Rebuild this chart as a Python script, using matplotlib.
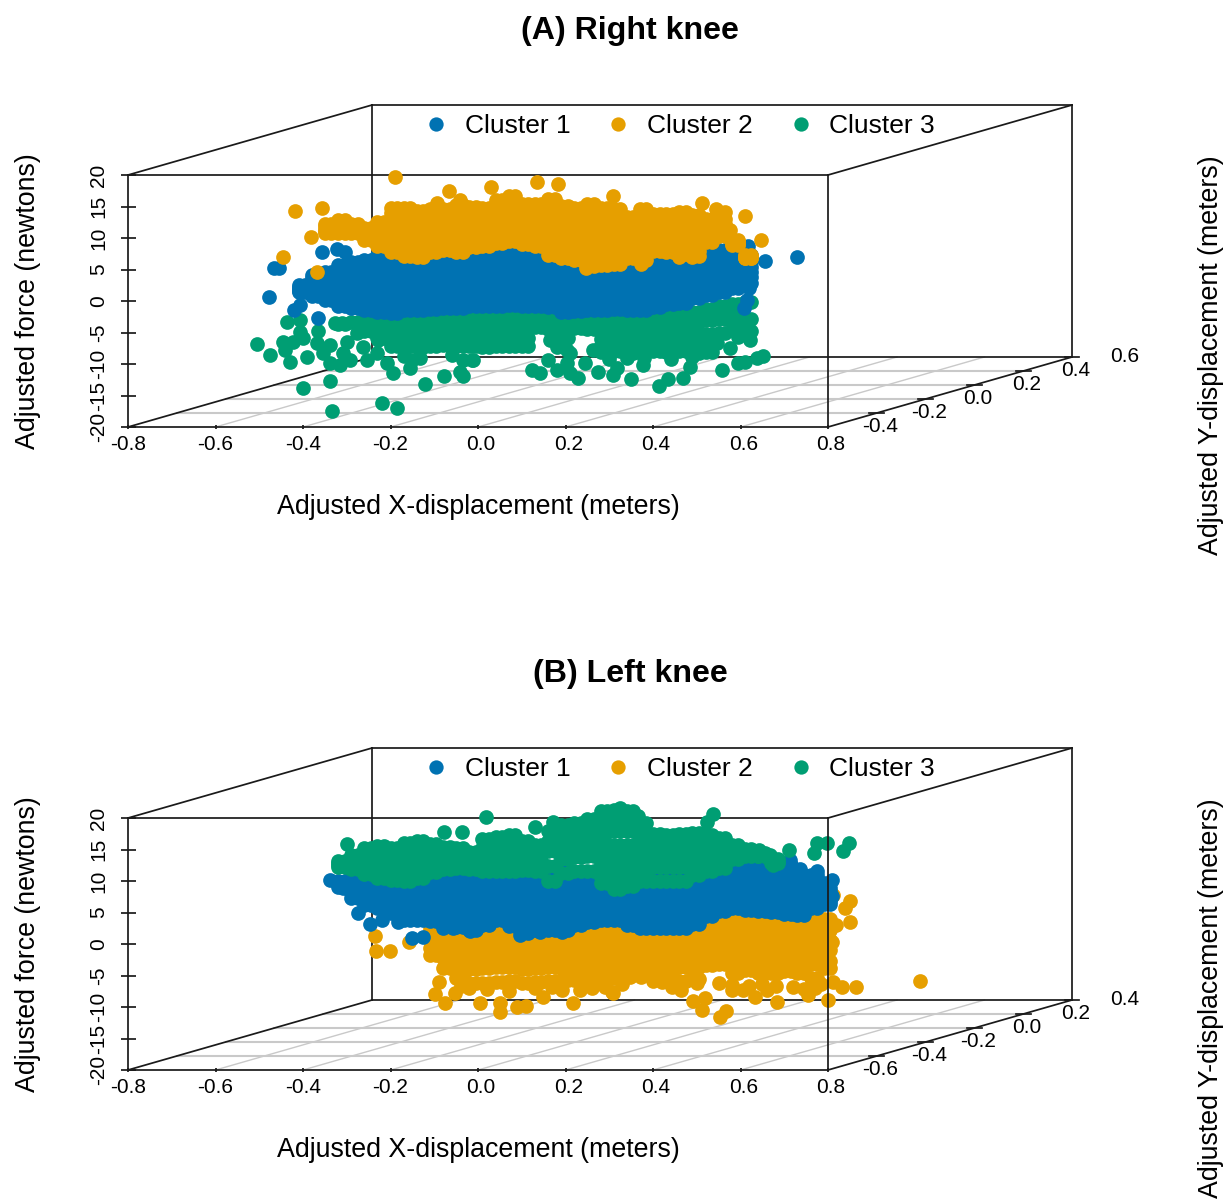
# 3D-style scatter of adjusted knee force, two panels
import numpy as np
import matplotlib
matplotlib.use("Agg")
import matplotlib.pyplot as plt
from matplotlib.lines import Line2D
from matplotlib.transforms import ScaledTranslation

plt.rcParams['font.family'] = ['Liberation Sans', 'DejaVu Sans']
plt.rcParams['axes.unicode_minus'] = False

n = np.nan

# Colours and labels
cluster_names = ["Cluster 1", "Cluster 2", "Cluster 3"]
blue, orange, green = "#0072B2", "#E69F00", "#009E73"

x_ticks = [-0.8, -0.6, -0.4, -0.2, 0.0, 0.2, 0.4, 0.6, 0.8]
force_ticks = [-20, -15, -10, -5, 0, 5, 10, 15, 20]
depth_labels_a = ["-0.4", "-0.2", "0.0", "0.2", "0.4", "0.6"]
depth_labels_b = ["-0.6", "-0.4", "-0.2", "0.0", "0.2", "0.4"]

xa1 = [-0.44,-0.41,-0.38,-0.35,-0.32,-0.29,-0.26,-0.23,-0.20,-0.17,-0.14,-0.11,-0.08,-0.05,-0.02,0.01,0.04,0.07,0.10,0.13,0.16,0.19,0.22,0.25,0.28,0.31,0.34,0.37,0.40,0.43,0.46,0.49,0.52,0.55,0.58,0.61]
xa2 = [-0.425,-0.395,-0.365,-0.335,-0.305,-0.275,-0.245,-0.215,-0.185,-0.155,-0.125,-0.095,-0.065,-0.035,-0.005,0.025,0.055,0.085,0.115,0.145,0.175,0.205,0.235,0.265,0.295,0.325,0.355,0.385,0.415,0.445,0.475,0.505,0.535,0.565,0.595,0.625]

a_orange_rows = [
    [n,n,n,12.2,12.9,12.2,11.6,12.5,14.8,14.8,14.3,14.6,14.6,15.2,14.9,14.8,16,16.7,15.4,15.4,16.2,15.1,14.8,15.4,14.8,14.6,13.3,14.6,13.8,13.8,14.1,13.7,13,14.1,9.7,7.3],
    [n,n,n,11.9,12.4,11.9,11.1,11.5,13,12.9,12.5,12.9,13,13.3,13.3,13.3,14.3,14.9,13.8,13.7,14,13,12.7,13,12.5,12.4,11.7,12.6,12.3,12.3,12.4,12,12.1,13,9.5,7.2],
    [n,n,n,11.5,11.9,11.5,10.7,10.6,11.3,11,10.7,11.2,11.4,11.5,11.8,11.8,12.6,13.1,12.2,12,11.8,11,10.7,10.5,10.3,10.3,10,10.6,10.9,10.8,10.8,10.4,11.2,12.2,9.3,7],
    [n,n,n,11.1,11.3,11.1,10.2,9.7,9.5,9,8.8,9.5,9.8,9.6,10.2,10.3,10.9,11.3,10.6,10.4,9.5,8.9,8.6,8,8,8.1,8.4,8.5,9.4,9.3,9.2,8.8,10.3,11.2,9.1,6.9],
    [n,n,n,10.8,10.8,10.8,9.7,8.7,7.8,7.1,7,7.8,8.1,7.8,8.6,8.7,9.2,9.5,9,8.7,7.3,6.8,6.5,5.6,5.7,5.9,6.8,6.5,8,7.8,7.5,7.1,9.4,10.3,8.9,6.8],
    [n,n,n,n,n,n,n,n,13.9,13.8,13.4,13.7,13.8,14.2,14.1,14,15.1,15.8,14.6,14.5,15.1,14,13.7,14.2,13.6,13.5,12.5,13.6,13,13,13.2,12.8,12.5,n,n,n],
    [n,n,n,n,n,n,n,n,12.1,11.9,11.6,12,12.2,12.4,12.5,12.5,13.4,14,13,12.8,12.9,12,11.7,11.7,11.4,11.3,10.8,11.6,11.6,11.5,11.6,11.2,n,n,n,n],
    [n,n,n,n,n,n,n,n,10.4,10,9.7,10.3,10.6,10.5,11,11,11.7,12.2,11.4,11.2,10.6,10,9.6,9.2,9.1,9.2,9.2,9.5,10.1,10,10,9.6,n,n,n,n],
    [n,n,n,n,n,n,n,n,8.6,8,7.9,8.6,8.9,8.7,9.4,9.5,10,10.4,9.8,9.5,8.4,7.8,7.5,6.8,6.9,7,7.6,7.5,8.7,8.5,8.3,8,n,n,n,n],
]
a_orange_x = [-0.19,-0.418,-0.357,-0.382,-0.446,-0.368,-0.066,-0.094,-0.041,0.03,0.135,0.183,0.309,0.512,0.544,0.61,0.647,0.576,0.373,0.459,0.489,0.247]
a_orange_f = [19.7,14.3,14.8,10.2,7,4.6,17.5,15.6,16,18.1,18.9,18.6,16.7,15.6,14.6,13.5,9.7,11.3,5.9,7,7,5.2]

a_blue_rows = [
    [n,2.5,4.1,4.6,5.7,6.2,6.5,7.3,7.4,7.0,7.2,7.5,7.4,7.3,7.6,7.8,8.0,8.4,8.2,7.8,7.2,6.5,6.0,5.6,5.6,5.8,6.0,5.4,6.5,7,7.3,7.6,8.1,8.1,7.8,7.3],
    [n,2.2,3.6,3.9,4.4,4.8,5.0,5.5,5.6,5.4,5.5,5.8,5.7,5.6,5.9,6.1,6.3,6.6,6.4,6.1,5.6,4.9,4.5,4.2,4.2,4.4,4.6,4.1,5.0,5.4,5.7,6.0,6.5,6.6,6.5,6.2],
    [n,2.0,3.0,3.1,3.2,3.4,3.5,3.7,3.8,3.7,3.8,4.0,4.0,3.9,4.2,4.4,4.6,4.8,4.6,4.4,3.9,3.3,3.0,2.8,2.8,3.0,3.1,2.8,3.6,4.0,4.2,4.6,5.1,5.3,5.4,5.4],
    [n,1.8,2.3,2.3,2.0,2.0,2.0,2.0,2.0,2.0,2.1,2.3,2.3,2.2,2.5,2.7,2.9,3.0,2.9,2.7,2.3,1.7,1.5,1.4,1.4,1.6,1.7,1.4,2.2,2.6,2.9,3.2,3.8,4.1,4.3,4.6],
    [n,1.6,1.5,1.2,0.6,0.5,0.3,0.2,0.2,0.3,0.4,0.5,0.6,0.6,0.8,1.0,1.1,1.2,1.1,0.9,0.6,0,-0.1,0,0,0.1,0.2,0,0.7,1.1,1.3,1.8,2.4,2.8,3.2,3.8],
    [n,1.4,0.8,0.2,-0.8,-1.1,-1.4,-1.7,-1.9,-1.4,-1.4,-1.3,-1.1,-1.1,-0.8,-0.8,-0.8,-0.6,-0.8,-0.8,-1,-1.7,-1.6,-1.4,-1.4,-1.3,-1.4,-1.4,-0.9,-0.4,-0.3,0.4,1,1.5,2.1,2.9],
]
a_blue_x = [-0.466,-0.455,-0.356,-0.322,-0.304,-0.478,-0.408,-0.42,-0.366,0.656,0.729,0.617,0.62,0.615,0.608]
a_blue_f = [5.2,5.2,7.8,8.2,7.8,0.6,-0.6,-1.4,-2.7,6.4,7,8.8,2.1,0.2,-1.1]

a_green_rows = [
    [n,n,n,n,-3.6,-3.4,-3.0,-2.8,-2.6,-2.6,-2.8,-2.6,-2.5,-2.6,-2.4,-2.4,-2.5,-2.3,-2.4,-2.3,-2.6,-2.7,-2.8,-2.7,-2.8,-2.8,-2.7,-2.8,-2.7,-2.5,-2.2,-1.8,-1.2,-0.8,-0.4,-0.2],
    [n,n,n,n,n,n,-4.8,-4.4,-4.2,-4.3,-4.4,-4.2,-4.1,-4.2,-4.0,-4.1,-4.2,-4.0,-4.1,-4.1,-4.4,-4.6,-4.3,-4.4,-4.5,-4.4,-4.3,-4.4,-4.2,-4.0,-3.8,-3.4,-3.0,-2.8,-2.6,-2.8],
    [n,n,n,n,n,n,n,-5.8,-5.6,-5.9,-6.0,-5.8,-5.7,-5.8,-5.7,-5.8,-5.9,-5.7,-5.8,n,n,-5.9,n,n,-6,-6.0,-6.0,-6.1,-5.9,-5.8,-5.7,-5.4,-5.2,-5.0,-4.6,-4.8],
    [n,n,n,n,n,n,n,n,n,n,n,n,n,n,n,n,n,n,n,n,n,n,n,n,-7,-7,-7.1,-7.1,-6.9,-7,-6.9,-6.8,-6.6,n,n,n],
    [n,n,n,n,n,n,n,n,-7.2,-7.1,-7.3,-7.2,-7.0,-7.2,-7.1,-7.3,-7.2,-7.1,-7.2,n,n,n,n,n,-8.1,-8.0,-8.2,-8.1,-7.9,-8.1,-8.0,-8.2,-8.1,n,n,n],
]
a_green_x = [-.437,-.407,-.407,-.366,-.327,-.311,-.505,-.475,-.446,-.423,-.441,-.391,-.43,-.4,-.368,-.338,-.354,-.338,-.315,-.309,-.293,-.299,-.277,-.254,-.263,-.231,-.229,-.208,-.194,-.151,-.133,-.155,-.338,-.4,-.121,-.078,-.034,-.041,-.034,-.014,-.219,-.185,-.334,-.011,.123,.142,.181,.16,.21,.229,.203,.245,.274,.309,.35,.318,.377,.485,.469,.434,.414,.558,.594,.61,.638,.651,.622,.594,.576,.546,.165,.203,.181,.21,.263,.3,.34,.38,.44,.49,-.17,-.06]
a_green_f = [-3.3,-3,-4.9,-4.8,-3.5,-3.5,-6.8,-8.6,-6.5,-6.5,-7.8,-8.9,-9.7,-5.9,-6.7,-7,-8.3,-9.8,-10.2,-8.3,-9.4,-6.5,-5.1,-9.4,-7.3,-8.3,-6.2,-9.8,-11.4,-9.4,-9,-10.6,-12.7,-13.8,-13.2,-11.9,-11.9,-11.3,-9.4,-9.4,-16.2,-17,-17.5,-9.4,-11,-11.4,-11,-9.4,-11.4,-12.2,-9.8,-9.8,-11.3,-11.7,-12.4,-10.6,-10.2,-10.5,-12.2,-12.4,-13.5,-11,-9.8,-9.7,-9,-8.7,-6.2,-5.7,-7.5,-6.7,-6.2,-7.8,-7.3,-8.3,-7.8,-9.2,-9,-9.1,-9.2,-8.9,-8.7,-8.6]

# Panel B
xb1 = [-0.35,-0.32,-0.29,-0.26,-0.23,-0.20,-0.17,-0.14,-0.11,-0.08,-0.05,-0.02,0.01,0.04,0.07,0.10,0.13,0.16,0.19,0.22,0.25,0.28,0.31,0.34,0.37,0.40,0.43,0.46,0.49,0.52,0.55,0.58,0.61,0.64,0.67,0.70,0.73,0.76,0.79]
xb2 = [-0.335,-0.305,-0.275,-0.245,-0.215,-0.185,-0.155,-0.125,-0.095,-0.065,-0.035,-0.005,0.025,0.055,0.085,0.115,0.145,0.175,0.205,0.235,0.265,0.295,0.325,0.355,0.385,0.415,0.445,0.475,0.505,0.535,0.565,0.595,0.625,0.655,0.685,0.715,0.745,0.775,0.805]

b_green_rows = [
    [n,13.2,14.1,15.2,15.6,15.2,16,16.3,15.9,15.4,15.2,14.6,16.7,17,17.3,16.3,15.7,17.9,18.9,19.2,19.8,21.1,21.3,21.1,19.2,17.5,17.3,17.5,17.6,17.3,16.8,15.7,15.1,14.4,13.5,n,n,n,n],
    [n,12.8,13.3,14,14.2,13.8,14.5,14.8,14.4,14,13.9,13.6,15.2,15.5,15.8,14.9,14.4,16.3,17.3,17.6,18.2,19.5,19.7,19.5,17.7,16,15.8,16,16,15.8,15.3,14.6,14.6,14.2,13.2,n,n,n,n],
    [n,12.5,12.7,13,13,12.6,13,13.4,13,12.9,12.9,12.8,13.8,14,14.3,13.6,13.1,14.8,15.8,16,16.6,17.8,18,17.9,16.2,14.5,14.4,14.5,14.5,14.2,14,13.8,14.2,14,n,n,n,n,n],
    [n,n,n,n,n,n,n,n,n,n,n,n,n,n,n,n,n,15.5,16.5,16.8,17.4,18.6,18.8,18.7,16.9,15.2,15.1,15.2,15.2,n,n,n,n,n,n,n,n,n,n],
    [n,n,n,n,n,n,n,n,n,n,n,n,n,n,n,n,n,n,14.6,14.9,15.2,15.8,15.7,15.7,14.6,13.3,13.3,13.3,n,n,n,n,n,n,n,n,n,n,n],
    [n,n,n,n,n,n,n,n,n,n,n,n,n,n,n,n,n,n,14,14.4,14.6,14.7,14.5,14.6,13.8,12.8,12.8,12.8,n,n,n,n,n,n,n,n,n,n,n],
    [n,n,12.3,12,11.8,11.4,11.5,12,12.2,12.4,12.5,12.4,12.7,12.8,13,12.6,12.3,12.4,13.5,13.8,14,13.7,13.3,13.5,13,12.2,12.2,12.2,12.7,12.9,13,n,n,n,n,n,n,n,n],
    [n,n,n,n,n,n,n,n,n,n,n,n,n,n,n,n,n,n,n,n,n,12.7,12.1,12.4,12.2,n,n,n,n,n,n,n,n,n,n,n,n,n,n],
    [n,n,n,n,n,n,n,n,n,n,n,n,n,n,n,n,n,n,n,n,n,11.7,11,11.3,11.5,n,n,n,n,n,n,n,n,n,n,n,n,n,n],
    [n,n,n,n,n,n,n,n,n,n,n,n,n,n,n,n,n,n,n,n,n,10.7,9.9,10.2,10.8,n,n,n,n,n,n,n,n,n,n,n,n,n,n],
    [n,12.2,11.9,11.1,10.5,10.2,10,10.5,11.4,11.9,12.1,11.9,11.6,11.6,11.6,11.7,11.6,10,11.3,11.6,11.6,9.7,8.7,9.2,10,10,10,10,11,11.6,12.1,13.5,14,14,12.9,n,n,n,n],
]
b_green_x = [-.299,-.078,-.037,.018,.171,.13,.215,.325,.366,.524,.537,.711,.775,.798,.768,.847,.834,.674,.642,.667]
b_green_f = [15.9,17.8,17.8,20.2,19.4,18.5,18.9,21.6,20.3,19.4,20.6,15,16.1,16.1,14.4,16,14.7,12.6,15,14.2]

b_blue_rows = [
    [n,10,11,11,11,11,11,11,11,11.5,11.5,11.5,11.5,11.5,11.5,11.5,11.5,11.5,11.5,11.5,11.5,10.5,10,10,10.5,10.5,10.5,10.5,11,11.5,12,12.3,12.4,12.5,12.7,12.5,11,11,9.7],
    [n,9.8,10.3,10,9.9,9.8,9.6,9.6,9.5,9.8,9.7,9.6,9.8,10,9.8,9.5,9.6,9.6,9.6,9.8,9.9,9.2,8.8,8.6,8.9,8.9,8.9,8.9,9.4,10.1,10.6,11,11,11,11.2,11,9.9,10,8.9],
    [n,9.6,9.6,9,8.8,8.5,8.1,8.1,8,8.1,7.9,7.7,8.1,8.3,8,7.5,7.6,7.6,7.6,8.1,8.3,7.8,7.5,7.2,7.3,7.3,7.3,7.3,7.9,8.6,9.3,9.7,9.6,9.6,9.8,9.5,8.8,9,8.2],
    [n,n,8.9,8,7.8,7.3,6.7,6.7,6.5,6.4,6.2,5.9,6.4,6.6,6.3,5.6,5.8,5.8,5.8,6.3,6.7,6.4,6.2,5.8,5.7,5.7,5.7,5.7,6.3,7.2,7.9,8.4,8.2,8,8.2,8,7.7,8,7.5],
    [n,n,8.1,7.1,6.8,6.1,5.2,5.2,5.1,4.8,4.5,4,4.7,5.2,4.6,3.7,4,4,4,4.7,5.1,5.1,5,4.4,4.1,4.1,4.1,4.1,4.8,5.8,6.5,7,6.8,6.6,6.6,6.4,6.1,6.8,6.9],
    [n,9,7.3,6.2,5.7,4.9,3.8,3.8,3.7,3.2,2.7,2.2,3,3.8,2.9,1.7,2.2,2.2,2.2,3,3.5,3.8,3.8,3,2.5,2.5,2.5,2.5,3.2,4.4,5.2,5.7,5.4,5.2,5.1,4.8,4.6,5.7,6.3],
]
b_blue_x = [-.338,-.309,-.274,-.247,-.219,-.183,-.151,-.126,-.08,-.057,-.018,.096,.142,.192,.775,.809,.809,.713,.736]
b_blue_f = [10.2,8.9,5,3.2,3.8,3.5,1,1.1,2.5,2.5,2.1,1.4,1.9,1.9,11.6,10.2,7.6,13.3,11.9]

b_orange_rows = [
    [n,n,n,n,n,n,n,n,2.4,2.6,2.3,2.5,2.2,2.6,2.5,2.4,2.6,2.3,2.5,2.4,2.7,2.6,2.5,2.3,2.4,2.6,2.5,2.3,2.7,3.5,3.8,3.6,3.4,3.3,3.1,3,3.2,3.6,4],
    [n,n,n,n,n,n,n,n,0.8,1,0.9,1.1,0.8,1,1.1,0.9,1,0.8,1.1,1,0.9,1.1,1,0.8,0.9,1.1,1,0.8,1,1.8,2,1.9,1.7,1.6,1.5,1.4,1.6,1.9,2.3],
    [n,n,n,n,n,n,n,n,-0.7,-0.6,-0.5,-0.7,-0.4,-0.6,-0.5,-0.7,-0.6,-0.5,-0.4,-0.6,-0.7,-0.5,-0.6,-0.4,-0.7,-0.5,-0.6,-0.4,-0.6,0.1,0.3,0.2,0,0,-0.1,-0.2,0,0.2,0.6],
    [n,n,n,n,n,n,n,n,-1.7,-2.2,-2.1,-2.3,-2,-2.2,-2.1,-2.3,-2.2,-2,-2.1,-2.3,-2.2,-2,-2.1,-2.3,-2.2,-2,-2.3,-2.1,-2.2,-1.5,-1.4,-1.5,-1.6,-1.7,-1.6,-1.8,-1.7,-1.5,-1],
    [n,n,n,n,n,n,n,n,n,-3.8,-3.7,-3.9,-3.8,-3.6,-3.7,-3.9,-3.8,-3.7,-3.6,-3.8,-3.9,-3.7,-3.6,-3.8,-3.7,-3.9,-3.8,-3.6,-3.6,-3.3,-3.1,-3.3,-3.2,-3.4,-3.3,-3.4,-3.3,-3.2,-2.7],
    [n,n,n,n,n,n,n,n,n,n,-5.4,-6.2,-6.2,-6,-5.9,-6.2,-6.1,-5.9,-5.7,-5.7,-5.8,-5.7,-5.4,-4.9,-4.6,-4.9,-5.4,-5.9,-5.6,n,n,-4.6,-4.1,-4.6,-4.6,-4.3,-4.6,-5.4,-3.8],
]
b_orange_x = [-.235,-.233,-.201,-.158,-.089,-.098,-.075,-.053,.005,.05,.05,.089,.11,.149,.192,.217,.233,.306,.309,.347,.373,.443,.464,.501,.519,.491,.512,.553,.567,.581,.606,.633,.661,.683,.754,.8,.811,.832,.864,1.01,.818,.85,.839,.85,.809,.811,.02,.07,.13,.17,.26,.29,-.02,-.04,.33,.42,.40,.55,.58,.62,.65,.68,.72,.745,.77,.785]
b_orange_f = [1.3,-1.1,-1.1,.3,-6,-7.9,-9.4,-7.8,-9.4,-9.4,-10.8,-10,-9.8,-8.4,-7.3,-9.4,-7.3,-7.6,-7.8,-5.2,-5.2,-6.8,-7.3,-6.2,-8.6,-9,-10.5,-11.6,-10.6,-7.3,-7.3,-8.4,-7.3,-9.2,-8.1,-8.9,-6,-6.8,-6.8,-5.9,3,3.5,5.7,6.8,.3,7.8,-7.2,-7.4,-7,-6.9,-7,-6.8,-7,-6.6,-6.3,-6.1,-5.9,-6.2,-6.5,-6.6,-6.4,-6.6,-6.8,-7.2,-7,-6.3]

# Oblique shift of the back of the box, in x and force units
shift_x = 0.5577
shift_f = 11.11
black = "#1a1a1a"
grey = "#c9c9c9"


def project(x, f, d):
    return x + shift_x * d, f + shift_f * d


def flatten(cols, rows, extra_x, extra_f):
    # each force row is plotted at both column sets
    xs, fs = [], []
    for row in rows:
        for col in cols:
            for x, f in zip(col, row):
                xs.append(x)
                fs.append(f)
    return np.array(xs + extra_x), np.array(fs + extra_f)


def draw_box(ax, depth_labels):
    # floor grid
    for k in range(1, 5):
        x0, f0 = project(-0.8, -20, k / 5)
        x1, f1 = project(0.8, -20, k / 5)
        ax.plot([x0, x1], [f0, f1], color=grey, lw=1.5, zorder=0.3, clip_on=False)
    for t in x_ticks[1:-1]:
        x0, f0 = project(t, -20, 0)
        x1, f1 = project(t, -20, 1)
        ax.plot([x0, x1], [f0, f1], color=grey, lw=1.0, zorder=0.3, clip_on=False)
    # back and side edges
    edges = [((-0.8, -20, 0), (-0.8, -20, 1)), ((-0.8, 20, 0), (-0.8, 20, 1)),
             ((0.8, 20, 0), (0.8, 20, 1)), ((0.8, -20, 0), (0.8, -20, 1)),
             ((-0.8, -20, 1), (0.8, -20, 1)), ((-0.8, 20, 1), (0.8, 20, 1)),
             ((-0.8, -20, 1), (-0.8, 20, 1)), ((0.8, -20, 1), (0.8, 20, 1))]
    for a, b in edges:
        x0, f0 = project(*a)
        x1, f1 = project(*b)
        ax.plot([x0, x1], [f0, f1], color=black, lw=1.25, zorder=0.5, clip_on=False)
    # depth ticks and their labels
    for k in range(1, 7):
        x0, f0 = project(0.8, -20, k / 5)
        if k < 6:
            ax.plot([x0 - 0.017, x0 + 0.017], [f0, f0], color=black, lw=1.25, zorder=0.6, clip_on=False)
        ax.annotate(depth_labels[k - 1], (x0, f0), xytext=(2.5, -9.4), textcoords="offset points",
                    ha="center", va="center", fontsize=15, annotation_clip=False)


def draw_panel(ax, title, depth_labels, scatter_sets):
    draw_box(ax, depth_labels)
    for xs, fs, col in scatter_sets:
        ax.scatter(xs, fs, s=112, color=col, linewidths=0, zorder=1, clip_on=False)

    ax.set_xlim(-0.8, 0.8)
    ax.set_ylim(-20, 20)
    ax.set_xticks(x_ticks)
    ax.set_xticklabels(["%.1f" % t for t in x_ticks], fontsize=15)
    ax.set_yticks(force_ticks)
    ax.set_yticklabels([str(t) for t in force_ticks], fontsize=15, rotation=90, va="center")
    ax.tick_params(axis="x", direction="inout", length=3, width=1.25, pad=4, color=black)
    ax.tick_params(axis="y", direction="inout", length=10.8, width=1.25, pad=9, color=black)
    for t, lab in zip(x_ticks, ax.get_xticklabels()):
        if t >= 0:
            lab.set_transform(lab.get_transform() + ScaledTranslation(3 / 100, 0, ax.figure.dpi_scale_trans))
    for side in ax.spines:
        ax.spines[side].set_linewidth(1.25)
        ax.spines[side].set_color(black)
    ax.spines["top"].set_zorder(0.5)
    ax.spines["left"].set_zorder(0.5)
    ax.patch.set_visible(False)

    ax.set_xlabel("Adjusted X-displacement (meters)", fontsize=19.25, va="center")
    ax.xaxis.set_label_coords(0.5, -0.318)
    ax.set_ylabel("Adjusted force (newtons)", fontsize=19.25, va="center")
    ax.yaxis.set_label_coords(-0.143, 0.5)
    ax.text(1.5475, 0.286, "Adjusted Y-displacement (meters)", fontsize=19.25, rotation=90,
            ha="center", va="center", transform=ax.transAxes)

    handles = [Line2D([], [], ls="", marker="o", ms=10.3, mew=0, color=c) for c in (blue, orange, green)]
    ax.legend(handles, cluster_names, ncol=3, loc="center", bbox_to_anchor=(0.787, 1.194), frameon=False,
              fontsize=19, handlelength=1, handletextpad=0.58, columnspacing=1.32, borderpad=0, borderaxespad=0)
    # title sits 144 px above the top of the front box
    ax.figure.text(630 / 1228, ax.get_position().y1 + 144 / 1201, title,
                   fontsize=23.1, fontweight="bold", ha="center", va="center")


fig = plt.figure(figsize=(12.28, 12.01), dpi=100)
ax_a = fig.add_axes([128 / 1228, 1 - 427 / 1201, 700 / 1228, 252 / 1201])
ax_b = fig.add_axes([128 / 1228, 1 - 1070 / 1201, 700 / 1228, 252 / 1201])

xs_ao, fs_ao = flatten((xa1, xa2), a_orange_rows, a_orange_x, a_orange_f)
xs_ab, fs_ab = flatten((xa1, xa2), a_blue_rows, a_blue_x, a_blue_f)
xs_ag, fs_ag = flatten((xa1, xa2), a_green_rows, a_green_x, a_green_f)
draw_panel(ax_a, "(A) Right knee", depth_labels_a,
           [(xs_ag, fs_ag, green), (xs_ab, fs_ab, blue), (xs_ao, fs_ao, orange)])

xs_bo, fs_bo = flatten((xb1, xb2), b_orange_rows, b_orange_x, b_orange_f)
xs_bb, fs_bb = flatten((xb1, xb2), b_blue_rows, b_blue_x, b_blue_f)
xs_bg, fs_bg = flatten((xb1, xb2), b_green_rows, b_green_x, b_green_f)
draw_panel(ax_b, "(B) Left knee", depth_labels_b,
           [(xs_bo, fs_bo, orange), (xs_bb, fs_bb, blue), (xs_bg, fs_bg, green)])

fig.savefig("out.png", dpi=100)
